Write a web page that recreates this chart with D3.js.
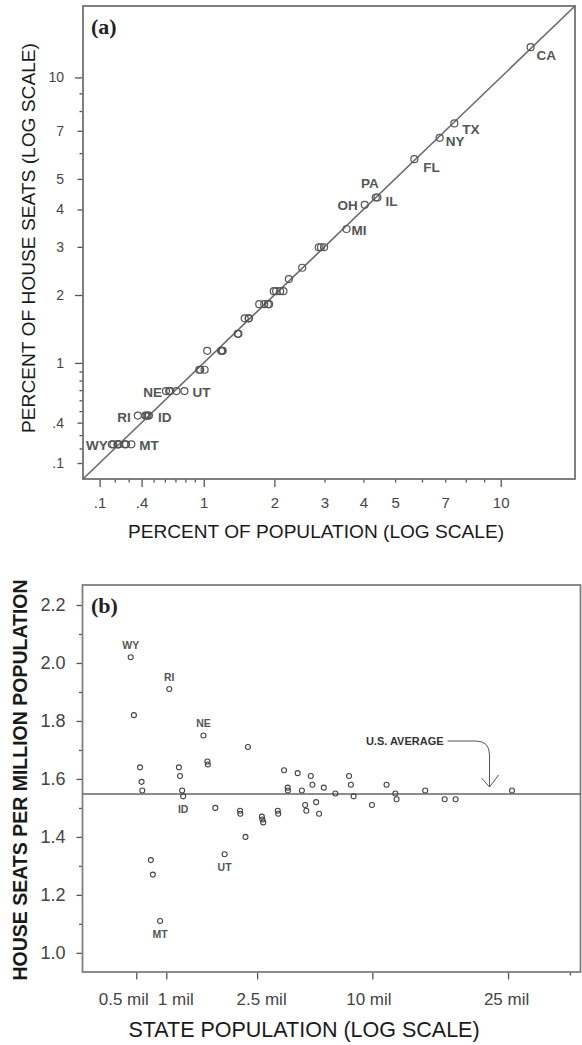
<!DOCTYPE html>
<html>
<head>
<meta charset="utf-8">
<script src="https://cdn.jsdelivr.net/npm/d3@7"></script>
<style>
  body { margin: 0; background: #fff; }
  svg { display: block; }
  text { font-family: "Liberation Sans", Arial, sans-serif; }
</style>
</head>
<body>
<script>
// ---- data (2000 apportionment) ----
var states = ["AL","AK","AZ","AR","CA","CO","CT","DE","FL","GA","HI","ID","IL","IN","IA","KS","KY","LA","ME","MD",
              "MA","MI","MN","MS","MO","MT","NE","NV","NH","NJ","NM","NY","NC","ND","OH","OK","OR","PA","RI","SC",
              "SD","TN","TX","UT","VT","VA","WA","WV","WI","WY",""];

// panel (a)
var pctPopulation = [1.59,0.22,1.83,0.95,12.06,1.53,1.21,0.28,5.70,2.92,0.43,0.46,4.42,2.16,1.04,0.96,1.44,1.59,0.45,1.89,
                     2.26,3.54,1.75,1.01,1.99,0.32,0.61,0.71,0.44,2.99,0.65,6.75,2.87,0.23,4.04,1.23,1.22,4.37,0.37,1.43,
                     0.27,2.03,7.43,0.79,0.22,2.52,2.10,0.64,1.91,0.18,0.19];
var pctSeats = [1.61,0.23,1.84,0.92,12.18,1.61,1.15,0.23,5.75,2.99,0.46,0.46,4.37,2.07,1.15,0.92,1.38,1.61,0.46,1.84,
                2.30,3.45,1.84,0.92,2.07,0.23,0.69,0.69,0.46,2.99,0.69,6.67,2.99,0.23,4.14,1.15,1.15,4.37,0.46,1.38,
                0.23,2.07,7.36,0.69,0.23,2.53,2.07,0.69,1.84,0.23,0.23];
var aTickLabeled = [0.1,0.4,1,2,3,4,5,7,10];
var aTickMinor = [0.2,0.3,0.5,0.6,0.7,0.8,0.9,6,8,9];

// panel (b)
var popMillions = [4.46,0.63,5.14,2.68,33.93,4.30,3.41,0.79,16.03,8.21,1.22,1.30,12.44,6.08,2.93,2.69,4.05,4.47,1.28,5.31,
                   6.36,9.96,4.93,2.85,5.61,0.90,1.72,2.00,1.24,8.42,1.82,19.01,8.07,0.64,11.37,3.46,3.43,12.30,1.05,4.03,
                   0.76,5.70,20.90,2.24,0.61,7.10,5.91,1.81,5.37,0.49,0.53];
var seatsPerMillion = [1.57,1.59,1.56,1.49,1.56,1.63,1.47,1.27,1.56,1.58,1.64,1.54,1.53,1.48,1.71,1.48,1.48,1.56,1.56,1.51,
                       1.57,1.51,1.62,1.40,1.61,1.11,1.75,1.50,1.61,1.54,1.65,1.53,1.61,1.56,1.58,1.45,1.46,1.55,1.91,1.49,
                       1.32,1.58,1.53,1.34,1.64,1.55,1.52,1.66,1.49,2.02,1.82];
var usAverage = 1.548;
var popTickVals = [0.56, 1, 3.24, 10, 32.8, 55.4];
var popTickLabels = ["0.5 mil","1 mil","2.5 mil","10 mil","25 mil",""];
var rateTickLabeled = [1.0,1.2,1.4,1.6,1.8,2.0,2.2];
var rateTickMinor = [1.1,1.3,1.5,1.7,1.9,2.1];

var labelsA = ["CA","TX","NY","FL","PA","IL","OH","MI","NE","UT","RI","ID","WY","MT"];
var labelsB = ["WY","RI","NE","ID","UT","MT"];

// ---- layout ----
var W = 582, H = 1045;
var svg = d3.select("body").append("svg").attr("width", W).attr("height", H);

var fmtA = function(d){ return d < 1 ? String(d).replace(/^0/, "") : String(d); };

// =================== panel (a) ===================
var aX = d3.scaleSymlog().constant(1).domain([0, 15.85]).range([83, 575]);
var aY = d3.scaleSymlog().constant(1).domain([0, 15.85]).range([479, 6]);

var ga = svg.append("g");

// y axis
var ayAxis = ga.append("g").attr("transform", "translate(83,0)")
	.call(d3.axisLeft(aY).tickValues(aTickLabeled.concat(aTickMinor)).tickFormat(function(d){
		return aTickLabeled.indexOf(d) >= 0 ? fmtA(d) : "";
	}));
ayAxis.select(".domain").remove();
ayAxis.selectAll(".tick line").attr("stroke", "#555").attr("stroke-width", 1.3)
	.attr("x2", function(d){ return [1,2,10].indexOf(d) >= 0 ? -8 : (aTickLabeled.indexOf(d) >= 0 ? -5.5 : -3.5); });
ayAxis.selectAll(".tick text").attr("x", -19).attr("fill", "#444").style("font-size", "14px");

// x axis
var axAxis = ga.append("g").attr("transform", "translate(0,479)")
	.call(d3.axisBottom(aX).tickValues(aTickLabeled.concat(aTickMinor)).tickFormat(function(d){
		return aTickLabeled.indexOf(d) >= 0 ? fmtA(d) : "";
	}));
axAxis.select(".domain").remove();
axAxis.selectAll(".tick line").attr("stroke", "#555").attr("stroke-width", 1.3)
	.attr("y2", function(d){ return [0.1,0.4,1,2,10].indexOf(d) >= 0 ? 8 : 3.5; });
axAxis.selectAll(".tick text").attr("y", 29).attr("dy", 0).attr("fill", "#444").style("font-size", "15px");

// frame
ga.append("rect").attr("x", 83).attr("y", 6).attr("width", 575 - 83).attr("height", 479 - 6)
	.attr("fill", "none").attr("stroke", "#727272").attr("stroke-width", 1.8);

// diagonal y = x
ga.append("line")
	.attr("x1", aX(0)).attr("y1", aY(0)).attr("x2", aX(15.85)).attr("y2", aY(15.85))
	.attr("stroke", "#6a6a6a").attr("stroke-width", 1.6);

// points
var dataA = states.map(function(s, i){ return {st: s, x: pctPopulation[i], y: pctSeats[i]}; });
ga.append("g").selectAll("circle").data(dataA).enter().append("circle")
	.attr("cx", function(d){ return aX(d.x); })
	.attr("cy", function(d){ return aY(d.y); })
	.attr("r", 3.5)
	.attr("fill", "none").attr("stroke", "#555").attr("stroke-width", 1.2);

// state labels (offset from point)
var offA = {CA:[6,13,"start"], TX:[8,11,"start"], NY:[6,8,"start"], FL:[9,13,"start"], PA:[-6,-10,"middle"],
            IL:[8,8,"start"], OH:[-7,5,"end"], MI:[5,6,"start"], NE:[-4,6,"end"], UT:[8,6,"start"],
            RI:[-7,6,"end"], ID:[9,6,"start"], WY:[-4,6,"end"], MT:[8,6,"start"]};
ga.append("g").selectAll("text").data(dataA.filter(function(d){ return labelsA.indexOf(d.st) >= 0; }))
	.enter().append("text")
	.attr("x", function(d){ return aX(d.x) + offA[d.st][0]; })
	.attr("y", function(d){ return aY(d.y) + offA[d.st][1]; })
	.attr("text-anchor", function(d){ return offA[d.st][2]; })
	.attr("fill", "#555").style("font-size", "13.5px").style("font-weight", "bold")
	.text(function(d){ return d.st; });

ga.append("text").attr("x", 91).attr("y", 34)
	.style("font-family", "'Liberation Serif', 'Times New Roman', serif")
	.style("font-weight", "bold").style("font-size", "22px").attr("fill", "#222").text("(a)");

ga.append("text").attr("x", 316).attr("y", 538).attr("text-anchor", "middle")
	.style("font-size", "19px").attr("fill", "#1a1a1a")
	.attr("textLength", 376).attr("lengthAdjust", "spacingAndGlyphs")
	.text("PERCENT OF POPULATION (LOG SCALE)");

ga.append("text").attr("transform", "translate(35,238) rotate(-90)").attr("text-anchor", "middle")
	.style("font-size", "19px").attr("fill", "#1a1a1a")
	.attr("textLength", 390).attr("lengthAdjust", "spacingAndGlyphs")
	.text("PERCENT OF HOUSE SEATS (LOG SCALE)");

// =================== panel (b) ===================
var bX = d3.scaleSymlog().constant(1).domain([0, 60.8]).range([82.5, 581]);
var bY = d3.scaleLinear().domain([0.934, 2.269]).range([972, 585]);

var gb = svg.append("g");

var byAxis = gb.append("g").attr("transform", "translate(82.5,0)")
	.call(d3.axisLeft(bY).tickValues(rateTickLabeled.concat(rateTickMinor)).tickFormat(function(d){
		return rateTickLabeled.indexOf(d) >= 0 ? d3.format(".1f")(d) : "";
	}));
byAxis.select(".domain").remove();
byAxis.selectAll(".tick line").attr("stroke", "#555").attr("stroke-width", 1.3)
	.attr("x2", function(d){ return rateTickLabeled.indexOf(d) >= 0 ? -6 : -3.5; });
byAxis.selectAll(".tick text").attr("x", -17).attr("fill", "#444").style("font-size", "18px");

// tick labels in the original sit a little off their ticks
var popLabelShift = [-13, 9, 4, -4, -2, 0];
var bxAxis = gb.append("g").attr("transform", "translate(0,972)")
	.call(d3.axisBottom(bX).tickValues(popTickVals).tickFormat(function(d, i){ return popTickLabels[i]; }));
bxAxis.select(".domain").remove();
bxAxis.selectAll(".tick line").attr("stroke", "#555").attr("stroke-width", 1.3)
	.attr("y2", function(d, i){ return popTickLabels[i] ? 7.5 : 3.5; });
bxAxis.selectAll(".tick text").attr("y", 33).attr("dy", 0)
	.attr("x", function(d, i){ return popLabelShift[i]; })
	.attr("fill", "#444").style("font-size", "17px");

gb.append("rect").attr("x", 82.5).attr("y", 585).attr("width", 580.5 - 82.5).attr("height", 972 - 585)
	.attr("fill", "none").attr("stroke", "#808080").attr("stroke-width", 1.8);

// U.S. average
gb.append("line").attr("x1", bX(0)).attr("x2", bX(60.8)).attr("y1", bY(usAverage)).attr("y2", bY(usAverage))
	.attr("stroke", "#666").attr("stroke-width", 1.6);

var dataB = states.map(function(s, i){ return {st: s, x: popMillions[i], y: seatsPerMillion[i]}; });
gb.append("g").selectAll("circle").data(dataB).enter().append("circle")
	.attr("cx", function(d){ return bX(d.x); })
	.attr("cy", function(d){ return bY(d.y); })
	.attr("r", 2.5)
	.attr("fill", "none").attr("stroke", "#444").attr("stroke-width", 1.1);

var offB = {WY:-8, RI:-8, NE:-8, ID:17, UT:17, MT:17};
gb.append("g").selectAll("text").data(dataB.filter(function(d){ return labelsB.indexOf(d.st) >= 0; }))
	.enter().append("text")
	.attr("x", function(d){ return bX(d.x); })
	.attr("y", function(d){ return bY(d.y) + offB[d.st]; })
	.attr("text-anchor", "middle")
	.attr("fill", "#555").style("font-size", "10.5px").style("font-weight", "bold")
	.text(function(d){ return d.st; });

// annotation arrow
var tipX = bX(28), tipY = bY(usAverage) - 7;
var ay0 = tipY - 46;
gb.append("path")
	.attr("d", "M" + (tipX - 42) + "," + ay0 + " L" + (tipX - 14) + "," + ay0 +
	      " Q" + tipX + "," + ay0 + " " + tipX + "," + (ay0 + 14) + " L" + tipX + "," + tipY)
	.attr("fill", "none").attr("stroke", "#555").attr("stroke-width", 1);
gb.append("path")
	.attr("d", "M" + (tipX - 8) + "," + (tipY - 9) + " L" + tipX + "," + tipY + " L" + (tipX + 9) + "," + (tipY - 12))
	.attr("fill", "none").attr("stroke", "#555").attr("stroke-width", 1);
gb.append("text").attr("x", tipX - 46).attr("y", ay0 + 4).attr("text-anchor", "end")
	.attr("fill", "#333").style("font-size", "11px").style("font-weight", "bold").text("U.S. AVERAGE");

gb.append("text").attr("x", 91).attr("y", 613)
	.style("font-family", "'Liberation Serif', 'Times New Roman', serif")
	.style("font-weight", "bold").style("font-size", "22px").attr("fill", "#222").text("(b)");

gb.append("text").attr("x", 304).attr("y", 1037).attr("text-anchor", "middle")
	.style("font-size", "21.5px").attr("fill", "#1a1a1a")
	.text("STATE POPULATION (LOG SCALE)");

gb.append("text").attr("transform", "translate(27,780) rotate(-90)").attr("text-anchor", "middle")
	.style("font-size", "19.5px").style("font-weight", "bold").attr("fill", "#1a1a1a")
	.text("HOUSE SEATS PER MILLION POPULATION");
</script>
</body>
</html>
